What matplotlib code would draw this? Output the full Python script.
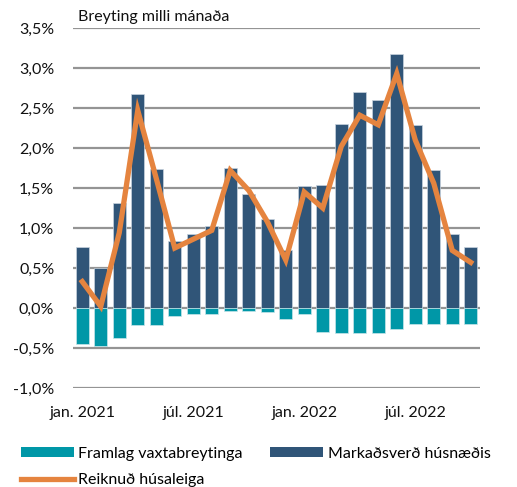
import matplotlib
matplotlib.use("Agg")
import matplotlib.pyplot as plt
from matplotlib.patches import Patch
from matplotlib.lines import Line2D
import numpy as np

plt.rcParams['font.family'] = ['Lato', 'DejaVu Sans']

months = ["jan. 2021", "feb. 2021", "mar. 2021", "apr. 2021", "maí 2021", "jún. 2021",
          "júl. 2021", "ágú. 2021", "sep. 2021", "okt. 2021", "nóv. 2021", "des. 2021",
          "jan. 2022", "feb. 2022", "mar. 2022", "apr. 2022", "maí 2022", "jún. 2022",
          "júl. 2022", "ágú. 2022", "sep. 2022", "okt. 2022"]
markadsverd = [0.76, 0.50, 1.31, 2.68, 1.74, 0.84, 0.93, 1.03, 1.75, 1.42, 1.11, 0.72,
               1.53, 1.54, 2.30, 2.70, 2.60, 3.17, 2.29, 1.72, 0.93, 0.76]
framlag = [-0.45, -0.48, -0.38, -0.21, -0.21, -0.10, -0.07, -0.08, -0.04, -0.04, -0.05, -0.14,
           -0.08, -0.30, -0.31, -0.31, -0.31, -0.26, -0.20, -0.20, -0.20, -0.20]
husaleiga = [0.33, 0.02, 0.94, 2.47, 1.62, 0.75, 0.86, 0.97, 1.72, 1.47, 1.08, 0.60,
             1.45, 1.25, 2.02, 2.41, 2.29, 2.93, 2.10, 1.56, 0.72, 0.57]
tick_idx = [0, 6, 12, 18]
tick_labels = ["jan. 2021", "júl. 2021", "jan. 2022", "júl. 2022"]
yticks = [-1.0, -0.5, 0.0, 0.5, 1.0, 1.5, 2.0, 2.5, 3.0, 3.5]

c_teal = "#0097A7"
c_blue = "#305578"
c_orange = "#E5843F"
fs = 11.5

fig = plt.figure(figsize=(5.17, 4.87), dpi=100)
ax = fig.add_axes([73/517, 1-388/487, (480-73)/517, (388-28)/487])

x = np.arange(len(months))
ax.bar(x, markadsverd, width=0.68, color=c_blue, edgecolor="#c8d3de", linewidth=0.5, zorder=2)
ax.bar(x, framlag, width=0.68, color=c_teal, edgecolor="#c8e6ea", linewidth=0.5, zorder=2)
ax.plot(x, husaleiga, color=c_orange, linewidth=3.8, solid_joinstyle='miter', zorder=3)

ax.set_xlim(-0.5, len(months) - 0.5)
ax.set_ylim(-1.0, 3.5)
ax.set_yticks(yticks)
ax.set_yticklabels([f"{v:.1f}%".replace(".", ",") for v in yticks], fontsize=fs)
ax.set_xticks(tick_idx)
ax.set_xticklabels(tick_labels, fontsize=fs)
ax.tick_params(axis='both', length=0, colors="#111111")
ax.tick_params(axis='x', pad=13)
ax.tick_params(axis='y', pad=13.5)
ax.yaxis.grid(True, color="#949494", linewidth=1.6, zorder=0)
ax.set_axisbelow(True)
for s in ax.spines.values():
    s.set_visible(False)

fig.text(78/517, 1-17/487, "Breyting milli mánaða", fontsize=fs, va='center', ha='left', color="#111111")

handles = [Patch(facecolor=c_teal, edgecolor='none'),
           Line2D([0], [0], color=c_orange, linewidth=3.8),
           Patch(facecolor=c_blue, edgecolor='none')]
labels = ["Framlag vaxtabreytinga", "Reiknuð húsaleiga", "Markaðsverð húsnæðis"]
fig.legend(handles, labels, ncol=2, loc='upper left', bbox_to_anchor=(21/517, 1-447/487),
           frameon=False, fontsize=fs, handlelength=3.3, handleheight=0.6,
           handletextpad=0.3, columnspacing=1.7, labelspacing=0.75, borderaxespad=0,
           borderpad=0)

fig.savefig("out.png", dpi=100)
